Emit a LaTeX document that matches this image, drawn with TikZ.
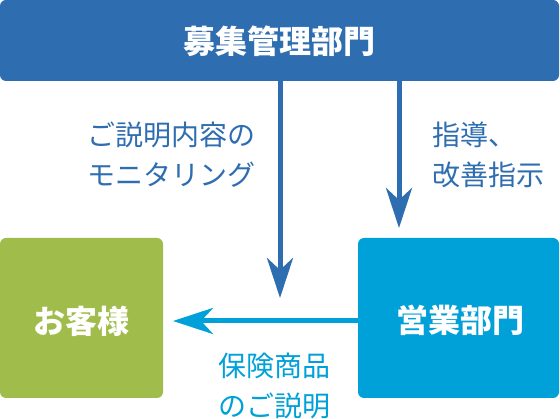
\documentclass[tikz,border=0pt]{standalone}
\usepackage{fontspec}
\setmainfont{Noto Sans CJK JP}
\usetikzlibrary{arrows.meta}
\definecolor{topblue}{HTML}{2E6DB0}
\definecolor{leafgreen}{HTML}{A0BD4B}
\definecolor{skyblue}{HTML}{00A0D8}
\tikzset{
  box/.style={inner sep=0pt, text=white, font=\fontsize{32}{36}\selectfont\bfseries},
  conn/.style={line width=5pt, -{Stealth[length=40pt, width=26pt, inset=12pt]}},
  lbl/.style={font=\fontsize{28}{40}\selectfont, align=left, inner sep=0pt}
}
\begin{document}
\begin{tikzpicture}[x=1pt,y=-1pt]
\useasboundingbox (0,0) rectangle (560,419);
\fill[topblue, rounded corners=6pt] (0,0) rectangle (559,81);
\node[box] (top) at (279,41) {募集管理部門};
\fill[leafgreen, rounded corners=6pt] (0,238) rectangle (163,398);
\node[box] (cust) at (82,321) {お客様};
\fill[skyblue, rounded corners=6pt] (358,238) rectangle (559,398);
\node[box] (sales) at (460,320) {営業部門};
\coordinate (a1s) at (280,81);
\coordinate (a1e) at (280,298);
\coordinate (a2s) at (399,81);
\coordinate (a2e) at (399,228);
\coordinate (a3s) at (358,321);
\coordinate (a3e) at (173,321);
\draw[conn, topblue] (a1s) -- (a1e);
\draw[conn, topblue] (a2s) -- (a2e);
\draw[conn, skyblue] (a3s) -- (a3e);
\node[lbl, text=topblue, anchor=east] (l1) at (256,155) {ご説明内容の\\モニタリング};
\node[lbl, text=topblue, anchor=west] (l2) at (432,155) {指導、\\改善指示};
\node[lbl, text=skyblue, anchor=west] (l3) at (218,386) {保険商品\\のご説明};
\end{tikzpicture}
\end{document}
